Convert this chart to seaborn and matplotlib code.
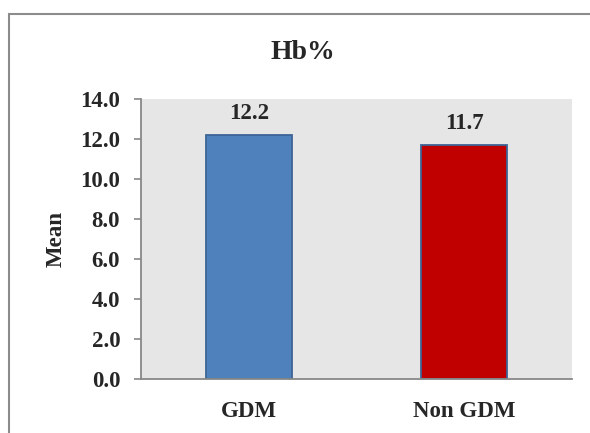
import pandas as pd
import numpy as np
import matplotlib.pyplot as plt
import seaborn as sb
from matplotlib.patches import Rectangle

groups = ["GDM", "Non GDM"]
means = [12.2, 11.7]
colors = ["#4f81bd", "#c00000"]
yticks = [0, 2, 4, 6, 8, 10, 12, 14]

df = pd.DataFrame({"group": groups, "mean": means})

sb.set_style("white")
plt.rcParams["font.family"] = ["Liberation Serif", "DejaVu Serif"]
plt.rcParams["font.weight"] = "bold"

fs = 16.5
fig = plt.figure(figsize=(5.9, 4.33), dpi=100)
ax = fig.add_axes([141/590, 54/433, 431/590, 280/433])

sb.barplot(data=df, x="group", y="mean", hue="group", palette=colors, saturation=1,
           width=0.40, edgecolor="#3e6496", linewidth=1.3, legend=False, ax=ax)

ax.set_facecolor("#e6e6e6")
ax.set_xlim(-0.5, 1.5)
ax.set_ylim(0, 14)
ax.set_yticks(yticks)
ax.set_yticklabels([f"{v:.1f}" for v in yticks], fontsize=fs, fontweight="bold")
ax.tick_params(axis="y", left=True, length=5, width=1.2, color="#888888", pad=10)
ax.tick_params(axis="x", bottom=False, pad=12)
for lab in ax.get_xticklabels():
    lab.set_fontsize(fs)
    lab.set_fontweight("bold")
ax.set_xlabel("")
ax.set_ylabel("Mean", fontsize=fs, fontweight="bold")
ax.yaxis.set_label_coords(-0.197, 0.5)
ax.yaxis.label.set_va("center")

for s in ["top", "right"]:
    ax.spines[s].set_visible(False)
for s in ["left", "bottom"]:
    ax.spines[s].set_color("#888888")
    ax.spines[s].set_linewidth(1.3)

# value labels on top of bars
for i, v in enumerate(means):
    ax.annotate(f"{v:.1f}", (i, v), xytext=(0, 11.5), textcoords="offset points",
                ha="center", va="baseline", fontsize=fs, fontweight="bold")

fig.text(303/590, 1 - 59/433, "Hb%", ha="center", va="baseline", fontsize=20, fontweight="bold")

# outer chart frame (runs off right and bottom)
fig.patches.append(Rectangle((9/590, -0.1), 1.0, 1 - 14/433 + 0.1, transform=fig.transFigure,
                             fill=False, edgecolor="#8c8c8c", linewidth=1.5))

fig.savefig("out.png", dpi=100)
